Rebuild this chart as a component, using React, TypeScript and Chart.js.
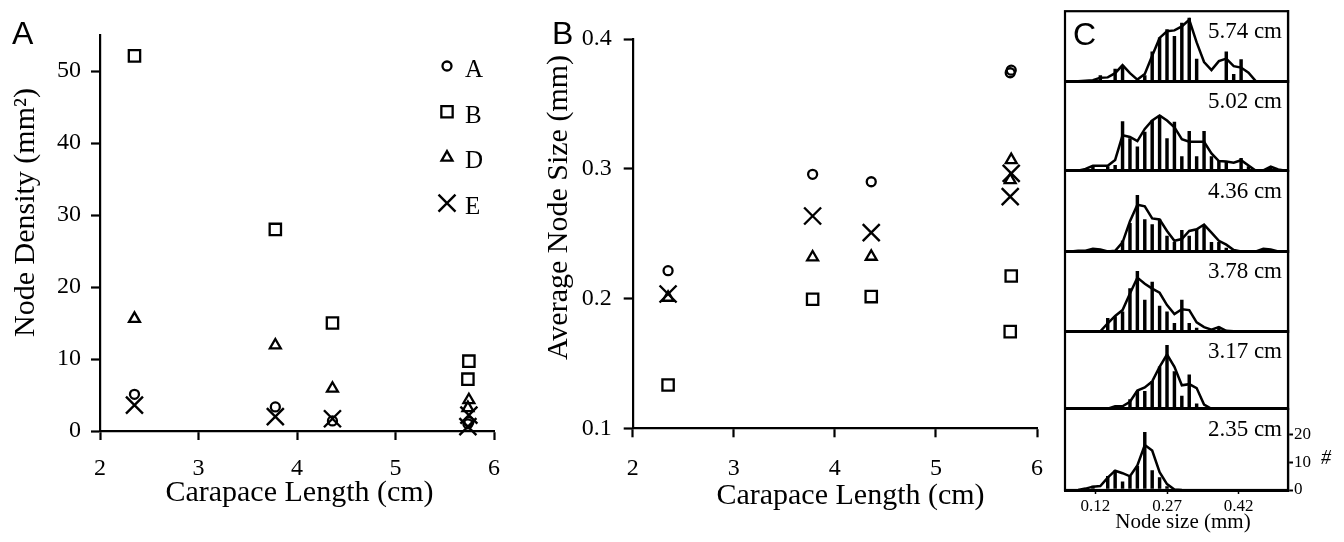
import React, { useEffect, useRef } from 'react';
import { Chart, registerables } from 'chart.js';
import { drawPoint } from 'chart.js/helpers';

Chart.register(...registerables);

const SERIF = '"Liberation Serif", "Times New Roman", Times, serif';
const SANS = '"Liberation Sans", Arial, Helvetica, sans-serif';
const INK = '#000000';
const NONE = 'rgba(0,0,0,0)';

// ---------- Panels A & B : per-animal measurements ----------
const CARAPACE_CM = [2.35, 3.78, 4.36, 5.745, 5.735];
const SERIES_NAMES = ['A', 'B', 'D', 'E'];

// Node density (per mm²)
const DENSITY_A = [5.1, 3.35, 1.4, 1.3, 1.0];
const DENSITY_B = [52.1, 28.0, 15.0, 9.7, 7.2];
const DENSITY_D = [15.6, 11.9, 5.9, 4.3, 3.2];
const DENSITY_E = [3.6, 2.0, 1.7, 2.2, 0.6];

// Average node size (mm)
const SIZE_A = [0.2215, 0.2957, 0.29, 0.376, 0.374];
const SIZE_B = [0.1334, 0.1994, 0.2015, 0.2174, 0.1745];
const SIZE_D = [0.2007, 0.2318, 0.2323, 0.3068, 0.2914];
const SIZE_E = [0.2035, 0.2636, 0.2508, 0.2965, 0.2785];

const CARAPACE_TICKS = [2, 3, 4, 5, 6];
const DENSITY_TICKS = [0, 10, 20, 30, 40, 50];
const SIZE_TICKS = [0.1, 0.2, 0.3, 0.4];

const PANEL_LETTERS = ['A', 'B', 'C'];
const X_TITLE_AB = 'Carapace Length (cm)';
const Y_TITLE_A = 'Node Density (mm²)';
const Y_TITLE_B = 'Average Node Size (mm)';

// ---------- Panel C : node-size histograms ----------
const HIST_LABELS = ['5.74 cm', '5.02 cm', '4.36 cm', '3.78 cm', '3.17 cm', '2.35 cm'];
const BIN_MM = [
  0.0685, 0.084, 0.0995, 0.115, 0.1305, 0.146, 0.1615, 0.177, 0.1925, 0.208,
  0.2235, 0.239, 0.2545, 0.27, 0.2855, 0.301, 0.3165, 0.332, 0.3475, 0.363,
  0.3785, 0.394, 0.4095, 0.425, 0.4405, 0.456, 0.4715, 0.487, 0.5025, 0.518,
];
const BARS_574 = [0, 0, 0, 0, 2, 0, 4.4, 5.5, 0, 0, 2, 10.5, 15.5, 18.5, 16.1, 20.8, 22.6, 7.9, 0, 0, 0, 10.5, 2.5, 7.8, 0, 0, 0, 0, 0, 0];
const LINE_574 = [null, 0, 0.2, 0.4, 1.3, 1.4, 2.9, 5.8, 2.9, 0.6, 2.6, 9.1, 15.5, 17.9, 18.2, 19.6, 22, 13.9, 6.9, 4, 7.2, 8.1, 5.4, 4.9, 3.1, 0, null, null, null, null];
const BARS_502 = [0, 0, 0, 1.5, 0, 1.5, 2, 17.6, 11.5, 8.6, 13.9, 18, 19.8, 11.5, 17.4, 5.1, 14.1, 5.1, 14.1, 5.1, 3.5, 3.3, 0, 4.5, 1.5, 0, 0, 1.5, 0, 0];
const LINE_502 = [0, 0, 0.7, 1.8, 1.8, 1.8, 3.9, 12.7, 12.1, 10.6, 15, 18, 19.8, 18, 15.6, 11.3, 10.4, 10.4, 10.4, 6.2, 3.5, 3.3, 2.9, 3.8, 1.9, 0, 0.2, 1.5, 0.5, 0];
const BARS_436 = [0, 0, 0, 0, 0, 0, 0, 3.8, 10, 20, 11.4, 9.6, 11.4, 5.5, 3.2, 7.5, 5.5, 7.9, 9, 3.2, 3.2, 1.2, 0, 0, 0, 0, 0, 0, 0, 0];
const LINE_436 = [0, 0.2, 0.2, 0.9, 0.7, 0, 0.2, 3.2, 10.8, 16.7, 16.1, 11.8, 11.4, 7.3, 3.8, 4.4, 7.3, 7.9, 9.6, 6.7, 3.8, 2.4, 0.5, 0, 0, 0, 0.9, 0.7, 0, null];
const BARS_378 = [0, 0, 0, 0, 0, 4.7, 5.3, 7, 15.3, 21.5, 11.2, 17.6, 9, 7, 2.9, 11.2, 2.9, 1.2, 0, 0, 1.5, 0, 0, 0, 0, 0, 0, 0, 0, 0];
const LINE_378 = [null, null, null, null, 0, 2.9, 5.5, 7.6, 13.5, 19.2, 17, 15.3, 13.8, 9.4, 6.2, 7.9, 7.6, 3.2, 1.5, 0.6, 1.5, 0.2, 0, null, null, null, null, null, null, null];
const BARS_317 = [0, 0, 0, 0, 0, 0, 0.8, 0, 3.3, 6.2, 6.2, 9.8, 15, 22.7, 13.3, 4.5, 12.1, 1.8, 0, 0, 0, 0, 0, 0, 0, 0, 0, 0, 0, 0];
const LINE_317 = [null, null, null, null, null, 0, 0.9, 0.9, 2.5, 6.5, 7.6, 9.8, 15, 19.4, 15, 8.4, 8.8, 7.4, 1.5, 0, null, null, null, null, null, null, null, null, null, null];
const BARS_235 = [0, 0, 0, 1.4, 0, 4.9, 6.9, 2.9, 4.9, 8.5, 20.6, 6.9, 4.4, 1.2, 0, 0, 0, 0, 0, 0, 0, 0, 0, 0, 0, 0, 0, 0, 0, 0];
const LINE_235 = [null, 0, 0.5, 1.2, 1.4, 4.4, 6.9, 6, 4.9, 8.8, 16.1, 14.1, 6.4, 2.1, 0.2, 0, null, null, null, null, null, null, null, null, null, null, null, null, null, null];

const HIST_BARS = [BARS_574, BARS_502, BARS_436, BARS_378, BARS_317, BARS_235];
const HIST_LINES = [LINE_574, LINE_502, LINE_436, LINE_378, LINE_317, LINE_235];
const NODE_SIZE_TICKS = [0.12, 0.27, 0.42];
const COUNT_TICKS = [0, 10, 20];
const X_TITLE_C = 'Node size (mm)';
const Y_TITLE_C = '#';

// ---------- layout / style (not data) ----------
const MARKERS = [
  { pointStyle: 'circle', radius: 4.5, borderWidth: 2.3 },
  { pointStyle: 'rect', radius: 8, borderWidth: 2.3 },
  { pointStyle: 'triangle', radius: 6.3, borderWidth: 2.3 },
  { pointStyle: 'crossRot', radius: 12, borderWidth: 2.4 },
];
const PANEL_HEIGHTS = [71, 90.7, 81.6, 81, 78.4, 82.3];
const PX_PER_COUNT = 2.833;
const C_X_RANGE = [0.0566, 0.5231];

function scatterSets(series: number[][]) {
  return series.map((vals, k) => ({
    label: SERIES_NAMES[k],
    data: CARAPACE_CM.map((x, i) => ({ x, y: vals[i] })),
    showLine: false,
    clip: false,
    pointStyle: MARKERS[k].pointStyle,
    pointRadius: MARKERS[k].radius,
    pointHoverRadius: MARKERS[k].radius,
    pointBorderWidth: MARKERS[k].borderWidth,
    pointBorderColor: INK,
    pointBackgroundColor: NONE,
    borderColor: INK,
    backgroundColor: NONE,
  }));
}

function axis(o: any) {
  return {
    type: 'linear',
    min: o.min,
    max: o.max,
    afterBuildTicks: (s: any) => { s.ticks = o.ticks.map((v: number) => ({ value: v })); },
    afterFit: (s: any) => { if (o.isX) s.height = o.size; else s.width = o.size; },
    border: { display: true, color: INK, width: 2.2 },
    grid: { display: true, drawOnChartArea: false, drawTicks: true, tickLength: 9, tickWidth: 2.2, tickColor: INK, color: INK },
    ticks: { color: INK, font: { family: SERIF, size: 24 }, padding: o.pad, maxRotation: 0, autoSkip: false, callback: o.fmt },
  };
}

function decor(id: string, draw: (chart: any, ctx: CanvasRenderingContext2D) => void) {
  return {
    id,
    afterDraw(chart: any) {
      const ctx = chart.ctx;
      ctx.save();
      ctx.fillStyle = INK;
      ctx.strokeStyle = INK;
      draw(chart, ctx);
      ctx.restore();
    },
  };
}

function rotatedText(ctx: CanvasRenderingContext2D, text: string, x: number, y: number) {
  ctx.save();
  ctx.translate(x, y);
  ctx.rotate(-Math.PI / 2);
  ctx.textAlign = 'center';
  ctx.textBaseline = 'alphabetic';
  ctx.fillText(text, 0, 0);
  ctx.restore();
}

const baseOptions = {
  responsive: false,
  animation: false,
  devicePixelRatio: 1,
  events: [],
  plugins: { legend: { display: false }, tooltip: { enabled: false } },
};

function configA(): any {
  return {
    type: 'scatter',
    data: { datasets: scatterSets([DENSITY_A, DENSITY_B, DENSITY_D, DENSITY_E]) },
    options: {
      ...baseOptions,
      layout: { padding: { left: 0, top: 35, right: 46, bottom: 0 } },
      scales: {
        x: axis({ min: 2, max: 6, ticks: CARAPACE_TICKS, isX: true, size: 111, pad: 14, fmt: (v: any) => String(v) }),
        y: axis({ min: 0, max: 55, ticks: DENSITY_TICKS, isX: false, size: 100, pad: 10, fmt: (v: any) => String(v) }),
      },
    },
    plugins: [
      decor('decorA', (chart, ctx) => {
        const a = chart.chartArea;
        ctx.font = `32px ${SANS}`;
        ctx.textAlign = 'left';
        ctx.textBaseline = 'alphabetic';
        ctx.fillText(PANEL_LETTERS[0], 12, 44);
        ctx.font = `30px ${SERIF}`;
        ctx.textAlign = 'center';
        ctx.fillText(X_TITLE_AB, 299.5, 501);
        rotatedText(ctx, Y_TITLE_A, 34, 212.5);
        SERIES_NAMES.forEach((name, k) => {
          const x = a.right - 47;
          const y = a.top + 31 + k * 45.7;
          ctx.lineWidth = MARKERS[k].borderWidth;
          ctx.strokeStyle = INK;
          ctx.fillStyle = NONE;
          ctx.beginPath();
          drawPoint(ctx, { ...MARKERS[k], rotation: 0 } as any, x, y);
          ctx.fillStyle = INK;
          ctx.font = `25px ${SERIF}`;
          ctx.textAlign = 'left';
          ctx.fillText(name, x + 18, y + 11);
        });
      }),
    ],
  };
}

function configB(): any {
  return {
    type: 'scatter',
    data: { datasets: scatterSets([SIZE_A, SIZE_B, SIZE_D, SIZE_E]) },
    options: {
      ...baseOptions,
      layout: { padding: { left: 0, top: 39, right: 22.3, bottom: 0 } },
      scales: {
        x: axis({ min: 2, max: 6, ticks: CARAPACE_TICKS, isX: true, size: 113.7, pad: 17, fmt: (v: any) => String(v) }),
        y: axis({ min: 0.1, max: 0.4, ticks: SIZE_TICKS, isX: false, size: 92.7, pad: 12, fmt: (v: any) => Number(v).toFixed(1) }),
      },
    },
    plugins: [
      decor('decorB', (chart, ctx) => {
        ctx.font = `32px ${SANS}`;
        ctx.textAlign = 'left';
        ctx.textBaseline = 'alphabetic';
        ctx.fillText(PANEL_LETTERS[1], 12, 44);
        ctx.font = `30px ${SERIF}`;
        ctx.textAlign = 'center';
        ctx.fillText(X_TITLE_AB, 310.5, 504);
        rotatedText(ctx, Y_TITLE_B, 27, 207.5);
      }),
    ],
  };
}

function configC(): any {
  const datasets: any[] = [];
  const scales: any = {
    x: {
      type: 'linear',
      min: C_X_RANGE[0],
      max: C_X_RANGE[1],
      offset: false,
      afterBuildTicks: (s: any) => { s.ticks = NODE_SIZE_TICKS.map((v) => ({ value: v })); },
      afterFit: (s: any) => { s.height = 52; },
      border: { display: true, color: INK, width: 3 },
      grid: { display: true, offset: false, drawOnChartArea: false, drawTicks: true, tickLength: 4, tickWidth: 1.5, tickColor: INK, color: INK },
      ticks: { color: INK, font: { family: SERIF, size: 17 }, padding: 2, maxRotation: 0, autoSkip: false, callback: (v: any) => Number(v).toFixed(2) },
    },
  };
  HIST_LABELS.forEach((_, i) => {
    const last = i === HIST_LABELS.length - 1;
    const id = 'y' + i;
    scales[id] = {
      type: 'linear',
      position: 'right',
      stack: 'hist',
      stackWeight: PANEL_HEIGHTS[i],
      offset: false,
      min: 0,
      max: PANEL_HEIGHTS[i] / PX_PER_COUNT,
      afterBuildTicks: (s: any) => { s.ticks = (last ? COUNT_TICKS : [0]).map((v) => ({ value: v })); },
      afterFit: (s: any) => { s.width = 56; },
      border: { display: true, color: INK, width: 2.2 },
      grid: {
        display: true,
        drawOnChartArea: true,
        drawTicks: last,
        tickLength: 5,
        tickWidth: 2,
        tickColor: INK,
        lineWidth: 3,
        color: (c: any) => (c.tick && c.tick.value === 0 ? INK : NONE),
      },
      ticks: { display: last, color: INK, font: { family: SERIF, size: 17 }, padding: 1, autoSkip: false, callback: (v: any) => String(v) },
    };
    datasets.push({
      type: 'line',
      label: HIST_LABELS[i] + ' curve',
      yAxisID: id,
      data: BIN_MM.map((x, j) => ({ x, y: HIST_LINES[i][j] })),
      borderColor: INK,
      borderWidth: 2.5,
      pointRadius: 0,
      tension: 0,
      fill: false,
      spanGaps: false,
    });
    datasets.push({
      type: 'bar',
      label: HIST_LABELS[i],
      yAxisID: id,
      data: BIN_MM.map((x, j) => ({ x, y: HIST_BARS[i][j] })).filter((p) => p.y > 0),
      backgroundColor: INK,
      borderWidth: 0,
      barThickness: 2.8,
      grouped: false,
    });
  });
  return {
    type: 'bar',
    data: { datasets },
    options: {
      ...baseOptions,
      layout: { padding: { left: 5, top: 5, right: 0, bottom: 0 } },
      scales,
    },
    plugins: [
      decor('decorC', (chart, ctx) => {
        const a = chart.chartArea;
        ctx.lineWidth = 2.2;
        ctx.strokeRect(a.left, a.top, a.right - a.left, a.bottom - a.top);
        ctx.font = `32px ${SANS}`;
        ctx.textAlign = 'left';
        ctx.textBaseline = 'alphabetic';
        ctx.fillText(PANEL_LETTERS[2], 13, 45);
        ctx.font = `23px ${SERIF}`;
        ctx.textAlign = 'right';
        HIST_LABELS.forEach((lab, i) => {
          const s = chart.scales['y' + i];
          ctx.fillText(lab, a.right - 6, s.top + 27);
        });
        ctx.font = `21px ${SERIF}`;
        ctx.textAlign = 'center';
        ctx.fillText(X_TITLE_C, 123, 528);
        ctx.font = `italic 20px ${SERIF}`;
        ctx.fillText(Y_TITLE_C, 326 - 60, 464);
      }),
    ],
  };
}

export default function App() {
  const aRef = useRef<HTMLCanvasElement>(null);
  const bRef = useRef<HTMLCanvasElement>(null);
  const cRef = useRef<HTMLCanvasElement>(null);

  useEffect(() => {
    const charts = [
      new Chart(aRef.current as HTMLCanvasElement, configA()),
      new Chart(bRef.current as HTMLCanvasElement, configB()),
      new Chart(cRef.current as HTMLCanvasElement, configC()),
    ];
    return () => charts.forEach((c) => c.destroy());
  }, []);

  return (
    <div style={{ position: 'fixed', left: 0, top: 0, width: 1344, height: 542, background: '#fff', overflow: 'hidden' }}>
      <canvas ref={aRef} width={540} height={542} style={{ position: 'absolute', left: 0, top: 0 }} />
      <canvas ref={bRef} width={520} height={542} style={{ position: 'absolute', left: 540, top: 0 }} />
      <canvas ref={cRef} width={284} height={542} style={{ position: 'absolute', left: 1060, top: 0 }} />
    </div>
  );
}
